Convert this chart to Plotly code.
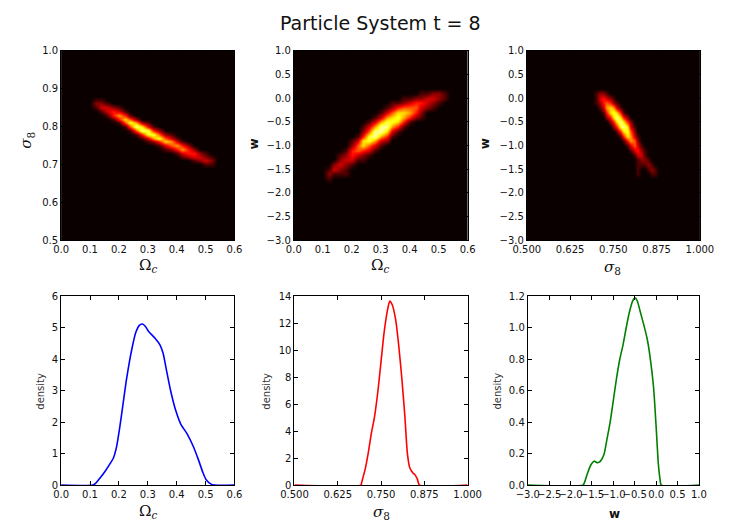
import plotly.graph_objects as go

TITLE = "Particle System t = 8"

# ---------------- 2D density maps (intensity 0-9) ----------------
# Panel 1: Omega_c (x) vs sigma_8 (y); columns x = 0.10..0.54 step 0.02, rows y = 0.88..0.69 step 0.01
hm1_xstart, hm1_xstep, hm1_ncols = 0.10, 0.02, 23
hm1_ystart, hm1_ystep = 0.88, -0.01
hm1_rows = [
    (0, ""), (1, "11"), (1, "221"), (1, "13321"), (2, "13431"), (3, "14641"),
    (4, "14752"), (5, "158621"), (6, "159731"), (7, "159842"), (8, "1488521"),
    (9, "1368531"), (10, "1247631"), (12, "135642"), (13, "124642"),
    (15, "134421"), (16, "123321"), (18, "1232"), (20, "11"), (0, ""),
]

# Panel 2: Omega_c (x) vs w (y); columns x = 0.10..0.54 step 0.02, rows y = 0.3..-1.9 step 0.1
hm2_xstart, hm2_xstep, hm2_ncols = 0.10, 0.02, 23
hm2_ystart, hm2_ystep = 0.3, -0.1
hm2_rows = [
    (0, ""), (0, ""), (17, "11221"), (14, "11223321"), (12, "112344321"),
    (11, "124555321"), (10, "13577642"), (9, "136786421"), (8, "13688741"),
    (7, "13699641"), (7, "2599731"), (6, "1489641"), (5, "1378632"),
    (5, "257531"), (4, "145431"), (3, "124321"), (3, "23311"), (2, "2321"),
    (1, "1321"), (1, "2111"), (1, "1"), (0, ""), (0, ""),
]

# Panel 3: sigma_8 (x) vs w (y); columns x = 0.68..0.90 step 0.01, rows y = 0.3..-1.9 step 0.1
hm3_xstart, hm3_xstep, hm3_ncols = 0.68, 0.01, 23
hm3_ystart, hm3_ystep = 0.3, -0.1
hm3_rows = [
    (0, ""), (0, ""), (2, "1221"), (2, "134321"), (2, "1245421"), (3, "1367631"),
    (4, "1478741"), (5, "2479742"), (6, "2479742"), (7, "2489731"), (8, "147852"),
    (9, "147631"), (10, "14652"), (11, "13531"), (12, "13421"), (13, "1331"),
    (14, "1221"), (14, "11121"), (14, "100121"), (14, "100011"), (0, ""), (0, ""), (0, ""),
]

# ---------------- 1D marginal densities ----------------
omega_x = [0.0, 0.11, 0.120, 0.136, 0.153, 0.170, 0.181, 0.192, 0.203, 0.214, 0.225, 0.236,
           0.247, 0.258, 0.270, 0.281, 0.292, 0.303, 0.325, 0.342, 0.353, 0.364, 0.380,
           0.397, 0.414, 0.436, 0.458, 0.475, 0.491, 0.502, 0.519, 0.530, 0.6]
omega_d = [0, 0, 0.06, 0.24, 0.45, 0.69, 0.86, 1.22, 1.84, 2.56, 3.29, 3.90,
           4.42, 4.84, 5.07, 5.12, 5.04, 4.88, 4.67, 4.46, 4.19, 3.68, 2.96,
           2.36, 1.94, 1.63, 1.22, 0.81, 0.39, 0.17, 0.03, 0, 0]

sigma_x = [0.5, 0.692, 0.694, 0.704, 0.713, 0.722, 0.731, 0.741, 0.750, 0.759, 0.769, 0.775,
           0.782, 0.792, 0.801, 0.810, 0.819, 0.826, 0.833, 0.843, 0.847, 0.855, 0.861, 1.0]
sigma_d = [0, 0, 0.19, 1.16, 2.37, 3.83, 5.04, 6.98, 9.16, 11.34, 13.03, 13.64,
           13.39, 12.3, 10.37, 7.94, 5.04, 2.37, 1.28, 0.87, 0.80, 0.44, 0, 0]

w_x = [-3.0, -1.71, -1.674, -1.60, -1.52, -1.45, -1.37, -1.30, -1.22, -1.15, -1.075, -1.0,
       -0.925, -0.85, -0.775, -0.70, -0.625, -0.55, -0.49, -0.44, -0.37, -0.29, -0.21,
       -0.14, -0.06, 0.0, 0.05, 0.09, 0.12, 1.0]
w_d = [0, 0, 0.017, 0.079, 0.131, 0.152, 0.142, 0.152, 0.194, 0.29, 0.40, 0.54,
       0.68, 0.80, 0.89, 1.0, 1.10, 1.17, 1.19, 1.17, 1.10, 1.02, 0.93,
       0.81, 0.62, 0.37, 0.14, 0.04, 0, 0]

# ---------------- tick values ----------------
omega_ticks = [0.0, 0.1, 0.2, 0.3, 0.4, 0.5, 0.6]
sigma_ticks = [0.5, 0.625, 0.75, 0.875, 1.0]
sigma_ticks_y = [0.5, 0.6, 0.7, 0.8, 0.9, 1.0]
w_ticks = [-3.0, -2.5, -2.0, -1.5, -1.0, -0.5, 0.0, 0.5, 1.0]
dens1_ticks = [0, 1, 2, 3, 4, 5, 6]
dens2_ticks = [0, 2, 4, 6, 8, 10, 12, 14]
dens3_ticks = [0.0, 0.2, 0.4, 0.6, 0.8, 1.0, 1.2]

HOT = [[0.0, "rgb(10,0,0)"], [0.365, "rgb(255,0,0)"],
       [0.746, "rgb(255,255,0)"], [1.0, "rgb(255,255,255)"]]


def build(rows, ncols, xstart, xstep, ystart, ystep):
    z = []
    for start, digits in rows:
        row = [0.0] * ncols
        for i, ch in enumerate(digits):
            row[start + i] = int(ch) / 10.0
        z.append(row)
    xs = [round(xstart + xstep * i, 4) for i in range(ncols)]
    ys = [round(ystart + ystep * k, 4) for k in range(len(rows))]
    return xs, ys[::-1], z[::-1]


fig = go.Figure()

for idx, (rows, nc, xs0, dx, ys0, dy) in enumerate([
        (hm1_rows, hm1_ncols, hm1_xstart, hm1_xstep, hm1_ystart, hm1_ystep),
        (hm2_rows, hm2_ncols, hm2_xstart, hm2_xstep, hm2_ystart, hm2_ystep),
        (hm3_rows, hm3_ncols, hm3_xstart, hm3_xstep, hm3_ystart, hm3_ystep)]):
    xs, ys, z = build(rows, nc, xs0, dx, ys0, dy)
    sfx = "" if idx == 0 else str(idx + 1)
    fig.add_trace(go.Heatmap(x=xs, y=ys, z=z, colorscale=HOT, zmin=0, zmax=1,
                             zsmooth="best", showscale=False, hoverinfo="skip",
                             xaxis="x" + sfx, yaxis="y" + sfx))

fig.add_trace(go.Scatter(x=omega_x, y=omega_d, mode="lines",
                         line=dict(color="rgb(0,0,255)", width=1.6, shape="spline", smoothing=0.6),
                         xaxis="x4", yaxis="y4", showlegend=False))
fig.add_trace(go.Scatter(x=sigma_x, y=sigma_d, mode="lines",
                         line=dict(color="rgb(255,0,0)", width=1.6, shape="spline", smoothing=0.6),
                         xaxis="x5", yaxis="y5", showlegend=False))
fig.add_trace(go.Scatter(x=w_x, y=w_d, mode="lines",
                         line=dict(color="rgb(0,128,0)", width=1.6, shape="spline", smoothing=0.6),
                         xaxis="x6", yaxis="y6", showlegend=False))

W, H = 729, 527
tickfont = dict(family="DejaVu Sans", size=10, color="#111")


def ax(domain, rng, tickvals, fmt, anchor):
    return dict(domain=domain, range=rng, tickvals=tickvals, tickformat=fmt, anchor=anchor,
                showline=True, linecolor="black", linewidth=1, mirror="ticks",
                ticks="inside", ticklen=4, tickcolor="black", tickwidth=1,
                showgrid=False, zeroline=False, tickfont=tickfont, tickangle=0,
                fixedrange=True)


def px_x(a, b):
    return [a / W, b / W]


def px_y(top, bottom):
    return [1 - bottom / H, 1 - top / H]


top_y = px_y(45.7, 239.3)
bot_y = px_y(296.5, 489.3)

fig.update_layout(
    width=W, height=H,
    margin=dict(l=0, r=0, t=0, b=0),
    paper_bgcolor="white", plot_bgcolor="white",
    showlegend=False,
    xaxis=ax(px_x(49, 229.3), [0, 0.6], omega_ticks, ".1f", "y"),
    yaxis=ax(top_y, [0.5, 1.0], sigma_ticks_y, ".1f", "x"),
    xaxis2=ax(px_x(291, 471.7), [0, 0.6], omega_ticks, ".1f", "y2"),
    yaxis2=ax(top_y, [-3, 1], w_ticks, ".1f", "x2"),
    xaxis3=ax(px_x(533.3, 713.3), [0.5, 1.0], sigma_ticks, ".3f", "y3"),
    yaxis3=ax(top_y, [-3, 1], w_ticks, ".1f", "x3"),
    xaxis4=ax(px_x(49, 229.3), [0, 0.6], omega_ticks, ".1f", "y4"),
    yaxis4=ax(bot_y, [0, 6], dens1_ticks, "d", "x4"),
    xaxis5=ax(px_x(291.7, 471.7), [0.5, 1.0], sigma_ticks, ".3f", "y5"),
    yaxis5=ax(bot_y, [0, 14], dens2_ticks, "d", "x5"),
    xaxis6=ax(px_x(534.3, 712.3), [-3, 1], w_ticks, ".1f", "y6"),
    yaxis6=ax(bot_y, [0, 1.2], dens3_ticks, ".1f", "x6"),
)

shapes = []
for sfx in ["", "2", "3"]:
    shapes.append(dict(type="rect", xref="x" + sfx + " domain", yref="y" + sfx + " domain",
                       x0=0, x1=1, y0=0, y1=1, fillcolor="rgb(10,0,0)",
                       line=dict(width=0), layer="below"))
fig.update_layout(shapes=shapes)

OMEGA = "Ω<sub><i>c</i></sub>"
SIGMA = "<i>σ</i><sub>8</sub>"
serif = dict(family="DejaVu Serif", size=15, color="#111")
wfont = dict(family="DejaVu Sans", size=12, color="#111", weight="bold")
small = dict(family="DejaVu Sans", size=10, color="#333")

labels = [
    (TITLE, 381, 17, 0, dict(family="DejaVu Sans", size=19, color="#111")),
    (OMEGA, 139, 265, 0, serif),
    (SIGMA, 13, 137, -90, serif),
    (OMEGA, 381, 265, 0, serif),
    ("w", 250, 141, -90, wfont),
    (SIGMA, 622, 267, 0, serif),
    ("w", 490, 141, -90, wfont),
    (OMEGA, 139, 516, 0, serif),
    (SIGMA, 382, 517, 0, serif),
    ("w", 625, 519, 0, wfont),
    ("density", 28, 393, -90, small),
    ("density", 263, 393, -90, small),
    ("density", 503, 393, -90, small),
]
fig.update_layout(annotations=[
    dict(text=t, x=x / W, y=1 - y / H, xref="paper", yref="paper", showarrow=False,
         xanchor="center", yanchor="middle", textangle=a, font=f)
    for t, x, y, a, f in labels
])

fig.write_html("out.html")
